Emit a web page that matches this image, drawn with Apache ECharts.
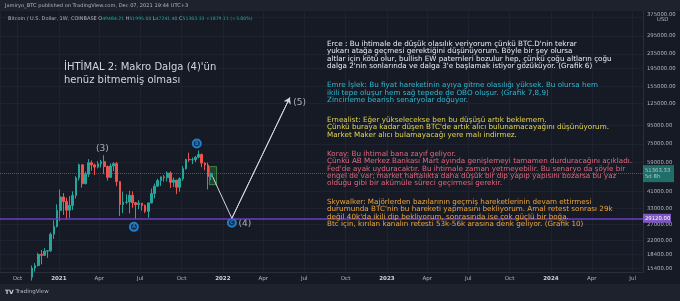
<!DOCTYPE html>
<html>
<head>
<meta charset="utf-8">
<script src="https://cdn.jsdelivr.net/npm/echarts@6/dist/echarts.min.js"></script>
<style>
html,body{margin:0;padding:0;background:#1e222d}
#chart{width:680px;height:301px}
</style>
</head>
<body>
<div id="chart"></div>
<script>
// weekly candles, BTC/USD Coinbase (week start dates)
var weeks = ['2020-10-26','2020-11-02','2020-11-09','2020-11-16','2020-11-23','2020-11-30','2020-12-07','2020-12-14','2020-12-21','2020-12-28',
	'2021-01-04','2021-01-11','2021-01-18','2021-01-25','2021-02-01','2021-02-08','2021-02-15','2021-02-22','2021-03-01','2021-03-08',
	'2021-03-15','2021-03-22','2021-03-29','2021-04-05','2021-04-12','2021-04-19','2021-04-26','2021-05-03','2021-05-10','2021-05-17',
	'2021-05-24','2021-05-31','2021-06-07','2021-06-14','2021-06-21','2021-06-28','2021-07-05','2021-07-12','2021-07-19','2021-07-26',
	'2021-08-02','2021-08-09','2021-08-16','2021-08-23','2021-08-30','2021-09-06','2021-09-13','2021-09-20','2021-09-27','2021-10-04',
	'2021-10-11','2021-10-18','2021-10-25','2021-11-01','2021-11-08','2021-11-15','2021-11-22','2021-11-29','2021-12-06'];
// [open, close, low, high]
var ohlc = [
	[13031,13781,12950,14100],[13781,15470,13200,15970],[15470,15960,14800,16480],[15960,18410,15800,18800],[18410,18180,16200,19480],
	[18180,19160,18100,19920],[19160,19270,17600,19420],[19270,23800,19000,24300],[23800,26250,22400,28400],[26250,32180,25900,34800],
	[32180,38180,28100,41950],[38180,36020,30400,40100],[36020,32300,28800,37850],[32300,34300,29300,38600],[34300,38900,32300,41000],
	[38900,48600,37400,49700],[48600,57500,47000,58300],[57500,45200,43000,57500],[45200,50970,44900,52700],[50970,59000,49200,61780],
	[59000,57400,53300,60700],[57400,55800,50400,58400],[55800,58200,54900,60200],[58200,59800,55500,61100],[59800,56200,51200,64900],
	[56200,49000,47000,57000],[49000,56600,48700,58400],[56600,58300,53000,59500],[58300,46400,43800,59600],[46400,34700,30000,46600],
	[34700,35700,31100,40900],[35700,35800,34800,39500],[35800,39000,31000,41300],[39000,35500,33300,41000],[35500,34700,28800,35800],
	[34700,35300,32700,36600],[35300,34250,32100,35100],[34250,31800,31100,34700],[31800,35400,29300,35500],[35400,39900,35200,42500],
	[39900,43800,37500,45300],[43800,47000,43700,48100],[47000,49300,43900,49400],[49300,48800,46400,50500],[48800,51800,46500,52900],
	[51800,46000,42800,52800],[46000,47300,43300,48900],[47300,43200,39600,47400],[43200,48200,40800,49000],[48200,54700,46900,56500],
	[54700,61500,54000,62000],[61500,61300,59600,67000],[61300,61300,58000,63000],[61300,63300,59500,64300],[63300,65500,62300,69000],
	[65500,58700,55700,66300],[58700,57300,53500,59300],[57300,49484.21,42000,59100],[49484.21,51363.33,47241.40,51995.00]
];
var priceTicks = [375000,295000,235000,195000,155000,125000,95000,75000,59000,41000,33000,27000,22000,18400,15400];
var monthNames = ['Jan','Feb','Mar','Apr','May','Jun','Jul','Aug','Sep','Oct','Nov','Dec'];
var lastClose = 51363.33;
var supportLevel = 29120;
var wavePath = [['2021-12-09',49500],['2022-01-21',29120],['2022-05-30',135000]];
var waveLabels = [['2021-04-08',70650,'(3)'],['2022-02-19',27150,'(4)'],['2022-06-21',127050,'(5)']];
var circleLabels = [['2021-06-17',26120,'A'],['2021-11-04',75300,'B'],['2022-01-21',27490,'C']];
var boxRange = [['2021-12-02',56150],['2021-12-18',44640]];

var notes = [
	{color:'#eceff4', y:40.3, lines:[
		"Erce : Bu ihtimale de düşük olasılık veriyorum çünkü BTC.D'nin tekrar",
		"yukarı atağa geçmesi gerektiğini düşünüyorum. Böyle bir şey olursa",
		"altlar için kötü olur, bullish EW paternleri bozulur hep, çünkü çoğu altların çoğu",
		"dalga 2'nin sonlarında ve dalga 3'e başlamak istiyor gözüküyor. (Grafik 6)"]},
	{color:'#2fb8d0', y:81.8, lines:[
		"Emre İşlek: Bu fiyat hareketinin ayıya gitme olasılığı yüksek. Bu olursa hem",
		"ikili tepe oluşur hem sağ tepede de OBO oluşur. (Grafik 7,8,9)",
		"Zincirleme bearish senaryolar doğuyor."]},
	{color:'#e2d650', y:116.1, lines:[
		"Ernealist: Eğer yükselecekse ben bu düşüşü artık beklemem.",
		"Çünkü buraya kadar düşen BTC'de artık alıcı bulunamacayağını düşünüyorum.",
		"Market Maker alıcı bulamayacağı yere malı indirmez."]},
	{color:'#e2677c', y:150.1, lines:[
		"Koray: Bu ihtimal bana zayıf geliyor.",
		"Çünkü AB Merkez Bankası Mart ayında genişlemeyi tamamen durduracağını açıkladı.",
		"Fed'de ayak uyduracaktır. Bu ihtimale zaman yetmeyebilir. Bu senaryo da şöyle bir",
		"engel de var; market haftalıkta daha düşük bir dip yapıp yapısını bozarsa bu yaz",
		"olduğu gibi bir akümüle süreci geçirmesi gerekir."]},
	{color:'#f0a638', y:198.4, lines:[
		"Skywalker: Majörlerden bazılarının geçmiş hareketlerinin devam ettirmesi",
		"durumunda BTC'nin bu hareketi yapmasını bekliyorum. Amal retest sonrası 29k",
		"değil 40k'da ikili dip bekliyorum, sonrasında ise çok güçlü bir boğa.",
		"Btc için, kırılan kanalın retesti 53k-56k arasına denk geliyor. (Grafik 10)"]}
];

var candles = weeks.map(function(w, i){ return [w].concat(ohlc[i]); });

var graphics = [
	{type:'rect', shape:{x:0,y:0,width:680,height:11}, style:{fill:'#1e222d'}, z:-1},
	{type:'rect', shape:{x:0,y:284,width:680,height:17}, style:{fill:'#1e222d'}, z:-1},
	{type:'text', left:5, top:3, z:100, style:{text:'Jamiryo_BTC published on TradingView.com, Dec 07, 2021 19:44 UTC+3', fill:'#b2b5be', font:'5.1px "DejaVu Sans"'}},
	{type:'text', left:8, top:16, z:100, style:{
		text:'{g|Bitcoin / U.S. Dollar, 1W, COINBASE} {g|O}{v|49484.21} {g|H}{v|51995.00} {g|L}{v|47241.40} {g|C}{v|51363.33} {v|+1879.11 (+3.80%)}',
		font:'4.8px "DejaVu Sans"',
		rich:{g:{fill:'#b2b5be', font:'5px "DejaVu Sans"'}, v:{fill:'#26a69a', font:'4.6px "DejaVu Sans"'}}}},
	{type:'text', left:64, top:61, z:100, style:{text:"İHTİMAL 2: Makro Dalga (4)'ün\nhenüz bitmemiş olması", fill:'#d1d4dc', font:'10px "DejaVu Sans"', lineHeight:12.7}},
	{type:'text', left:5, top:289, z:100, style:{text:'{b|TV} TradingView', fill:'#b2b5be', font:'5.5px "DejaVu Sans"', rich:{b:{fill:'#d1d4dc', font:'bold 6px "DejaVu Sans"'}}}}
];
notes.forEach(function(n){
	graphics.push({type:'text', left:327, top:n.y, z:100, style:{text:n.lines.join('\n'), fill:n.color, font:'7.2px "DejaVu Sans"', lineHeight:7.45}});
});

var myChart = echarts.init(document.getElementById('chart'));
myChart.setOption({
	backgroundColor: '#161a25',
	animation: false,
	graphic: graphics,
	grid: {left: 0, right: 37, top: 11, bottom: 29},
	xAxis: {
		type: 'time',
		min: '2020-08-23',
		max: '2024-07-24',
		splitNumber: 14,
		axisLine: {show: true, lineStyle: {color: '#2a2e39'}},
		axisTick: {show: false},
		splitLine: {show: true, lineStyle: {color: '#1e2230', width: 1}},
		axisLabel: {
			color: '#b2b5be', fontSize: 5.5, margin: 4, fontFamily: 'DejaVu Sans',
			formatter: function(val){
				var d = new Date(val);
				if (d.getMonth() === 0) return '{y|' + d.getFullYear() + '}';
				return monthNames[d.getMonth()];
			},
			rich: {y: {color: '#d1d4dc', fontWeight: 'bold', fontSize: 5.5, fontFamily: 'DejaVu Sans'}}
		}
	},
	yAxis: {
		type: 'log',
		position: 'right',
		min: 14715,
		max: 405600,
		axisLine: {show: true, lineStyle: {color: '#2a2e39'}},
		axisTick: {show: false, customValues: priceTicks},
		splitLine: {show: true, lineStyle: {color: '#1e2230', width: 1}},
		axisLabel: {
			customValues: priceTicks,
			color: '#b2b5be', fontSize: 5.3, margin: 4, fontFamily: 'DejaVu Sans',
			formatter: function(v){
				var s = Number(v).toFixed(2);
				return v === priceTicks[0] ? s + '\n      USD' : s;
			}
		}
	},
	series: [
		{
			type: 'candlestick',
			data: candles,
			encode: {x: 0, y: [1, 2, 3, 4]},
			barWidth: 2.2,
			itemStyle: {color: '#26a69a', color0: '#ef5350', borderColor: '#26a69a', borderColor0: '#ef5350', borderWidth: 1},
			markLine: {
				silent: true,
				symbol: ['none', 'none'],
				data: [
					{yAxis: lastClose, lineStyle: {color: '#26a69a', type: 'dotted', width: 1, opacity: 0.6},
						label: {show: true, position: 'end', distance: 0, formatter: '51363.33\n5d 8h', color: '#fff', fontSize: 5.3,
							backgroundColor: '#26a69a', padding: [2, 3, 2, 2], lineHeight: 6.5, width: 26, fontFamily: 'DejaVu Sans'}},
					{yAxis: supportLevel, lineStyle: {color: '#6a3fc4', type: 'solid', width: 1.5, opacity: 1},
						label: {show: true, position: 'end', distance: 0, formatter: '29120.00', color: '#fff', fontSize: 5.3,
							backgroundColor: '#7e57c2', padding: [2, 3, 2, 2], width: 23, fontFamily: 'DejaVu Sans'}}
				]
			},
			markArea: {
				silent: true,
				itemStyle: {color: 'rgba(76,175,80,0.25)', borderColor: 'rgba(76,175,80,0.7)', borderWidth: 1},
				data: [[{coord: boxRange[0]}, {coord: boxRange[1]}]]
			}
		},
		{
			type: 'line',
			data: wavePath,
			symbol: 'none',
			lineStyle: {color: '#d1d4dc', width: 1},
			markLine: {
				silent: true,
				symbol: ['none', 'arrow'],
				symbolSize: 6,
				lineStyle: {color: '#d1d4dc', width: 1, type: 'solid'},
				label: {show: false},
				data: [[{coord: wavePath[1]}, {coord: wavePath[2]}]]
			}
		},
		{
			type: 'scatter',
			data: waveLabels,
			encode: {x: 0, y: 1},
			symbolSize: 0,
			label: {show: true, position: 'inside', formatter: function(p){ return p.value[2]; },
				color: '#d1d4dc', fontSize: 9, fontFamily: 'DejaVu Sans'}
		},
		{
			type: 'scatter',
			data: circleLabels,
			encode: {x: 0, y: 1},
			symbolSize: 0,
			label: {show: true, position: 'inside', formatter: function(p){ return p.value[2]; },
				color: '#2196f3', fontSize: 5, fontWeight: 'bold', fontFamily: 'DejaVu Sans',
				backgroundColor: 'rgba(33,150,243,0.2)', borderColor: '#2196f3', borderWidth: 1,
				borderRadius: 5, width: 6, height: 6, lineHeight: 6, align: 'center', padding: 1}
		}
	]
});
</script>
</body>
</html>
